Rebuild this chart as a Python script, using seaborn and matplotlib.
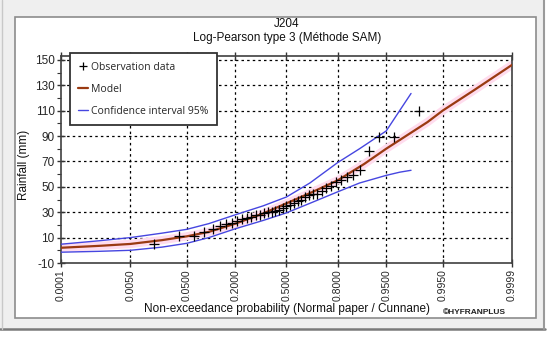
import numpy as np
import pandas as pd
import matplotlib
matplotlib.use("Agg")
import matplotlib.pyplot as plt
import seaborn as sns
from matplotlib.patches import Rectangle
from matplotlib.lines import Line2D
from statistics import NormalDist

# ---------------- data ----------------
tick_probs = [0.0001, 0.005, 0.05, 0.2, 0.5, 0.8, 0.95, 0.995, 0.9999]
tick_labels = ["0.0001", "0.0050", "0.0500", "0.2000", "0.5000",
               "0.8000", "0.9500", "0.9950", "0.9999"]

# observations: non-exceedance probability (Cunnane) and rainfall (mm)
obs_prob = [0.0146, 0.0388, 0.0631, 0.0874, 0.1117, 0.1359, 0.1602, 0.1845,
            0.2087, 0.2330, 0.2573, 0.2816, 0.3058, 0.3301, 0.3544, 0.3786,
            0.4029, 0.4272, 0.4515, 0.4757, 0.5000, 0.5243, 0.5485, 0.5728,
            0.5971, 0.6214, 0.6456, 0.6699, 0.6942, 0.7184, 0.7427, 0.7670,
            0.7913, 0.8155, 0.8398, 0.8641, 0.8883, 0.9126, 0.9369, 0.9612,
            0.9854]
obs_rain = [5.0, 11.5, 11.3, 14.5, 16.5, 19.0, 20.5, 21.7,
            23.0, 25.0, 25.5, 26.5, 27.5, 28.0, 29.0, 30.0,
            30.5, 31.0, 32.0, 33.0, 34.5, 36.0, 37.5, 39.0,
            40.0, 42.0, 43.5, 44.0, 44.5, 47.0, 49.0, 51.0,
            54.0, 55.5, 57.5, 59.0, 63.0, 78.0, 89.0, 89.0,
            110.0]

model_prob = [0.0001, 0.001, 0.005, 0.02, 0.05, 0.1, 0.2, 0.35, 0.5,
              0.65, 0.8, 0.9, 0.95, 0.99, 0.995, 0.999, 0.9999]
model_rain = [2.0, 3.5, 5.0, 8.0, 11.0, 14.5, 21.0, 29.0, 37.0,
              45.0, 55.0, 68.0, 80.0, 101.0, 110.0, 126.0, 146.0]

ci_prob = [0.0001, 0.001, 0.005, 0.02, 0.05, 0.1, 0.2, 0.35, 0.5,
           0.65, 0.8, 0.886, 0.95, 0.969, 0.98]
ci_upper = [4.8, 7.5, 10.0, 13.5, 16.5, 21.0, 28.0, 35.0, 42.0,
            53.0, 69.0, 80.0, 94.0, 110.0, 123.5]
ci_lower = [-1.5, -0.8, 0.0, 2.5, 5.5, 10.0, 17.0, 23.5, 29.5,
            37.0, 46.0, 53.0, 59.0, 61.5, 63.0]

# ---------------- helpers ----------------
nd = NormalDist()
def z(p):
    return [nd.inv_cdf(v) for v in p]

df_obs = pd.DataFrame({"z": z(obs_prob), "rain": obs_rain})
df_model = pd.DataFrame({"z": z(model_prob), "rain": model_rain})
df_ci = pd.DataFrame({"z": z(ci_prob), "up": ci_upper, "lo": ci_lower})

sns.set_theme(style="white")
plt.rcParams["font.family"] = ["Liberation Sans", "DejaVu Sans"]

W, H = 550, 337
fig = plt.figure(figsize=(W / 100, H / 100), dpi=100, facecolor="white")

def fx(px):
    return px / W
def fy(py):
    return 1 - py / H

# background frame like the screenshot
fig.patches.append(Rectangle((0, fy(329)), fx(544), 1 - fy(329), transform=fig.transFigure,
                             facecolor="#efefef", edgecolor="none", zorder=-3))
fig.patches.append(Rectangle((fx(15), fy(318)), fx(536) - fx(15), fy(17) - fy(318),
                             transform=fig.transFigure, facecolor="white",
                             edgecolor="#8c8c8c", lw=1.2, zorder=-2))
fig.lines.append(Line2D([0, fx(545)], [fy(329), fy(329)], transform=fig.transFigure,
                        color="#7a7a7a", lw=1.8))
fig.lines.append(Line2D([fx(544), fx(544)], [fy(329), 1], transform=fig.transFigure,
                        color="#9a9a9a", lw=1.5))
fig.lines.append(Line2D([fx(2), fx(2)], [fy(329), fy(0)], transform=fig.transFigure,
                        color="#c8c8c8", lw=1.0))

ax = fig.add_axes([fx(61), fy(263), fx(512) - fx(61), fy(56) - fy(263)])
ax.set_facecolor("white")

zl = nd.inv_cdf(0.0001)
ax.set_xlim(zl, -zl)
ax.set_ylim(-10, 153)

# grid
ax.set_xticks(z(tick_probs))
ax.set_xticklabels(tick_labels, rotation=90, fontsize=7.5)
yt = list(range(-10, 151, 20))
ax.set_yticks(yt)
ax.set_yticklabels([str(v) for v in yt], fontsize=8.5)
ax.set_yticks(list(range(0, 151, 20)), minor=True)
for v in yt[1:]:
    ax.axhline(v, color="black", lw=0.9, ls=(0, (2, 2.5)), zorder=0)
for v in z(tick_probs)[1:-1]:
    ax.axvline(v, color="black", lw=0.9, ls=(0, (2, 2.5)), zorder=0)

ax.tick_params(axis="both", which="major", direction="inout", length=6, width=1,
               color="#333333", top=True, bottom=True, left=True, right=False, labeltop=False,
               pad=1.5)
ax.tick_params(axis="y", which="minor", direction="out", length=3, width=0.8,
               color="#333333", left=True)
for s in ax.spines.values():
    s.set_color("#404040")
    s.set_linewidth(1.2)

# data
sns.lineplot(data=df_model, x="z", y="rain", ax=ax, color="#ffdcee", lw=6,
             sort=False, zorder=2, legend=False)
sns.lineplot(data=df_ci, x="z", y="up", ax=ax, color="#4646e0", lw=1.0,
             sort=False, zorder=3, legend=False)
sns.lineplot(data=df_ci, x="z", y="lo", ax=ax, color="#4646e0", lw=1.0,
             sort=False, zorder=3, legend=False)
sns.lineplot(data=df_model, x="z", y="rain", ax=ax, color="#9a3a12", lw=1.6,
             sort=False, zorder=4, legend=False)
sns.scatterplot(data=df_obs, x="z", y="rain", ax=ax, marker="+", color="black",
                s=45, linewidth=0.9, zorder=5, legend=False)

ax.set_xlabel("")
ax.set_ylabel("")

# titles and labels
fig.text(fx(287), fy(24), "J204", ha="center", va="center", fontsize=8.5, color="#111111")
fig.text(fx(287), fy(38), "Log-Pearson type 3 (Méthode SAM)", ha="center", va="center",
         fontsize=8.5, color="#111111")
fig.text(fx(24), fy(165), "Rainfall (mm)", ha="center", va="center", rotation=90,
         fontsize=8.5, color="#111111")
fig.text(fx(287), fy(309), "Non-exceedance probability (Normal paper / Cunnane)",
         ha="center", va="center", fontsize=8.5, color="#111111")
fig.text(fx(474), fy(312), "©HYFRANPLUS", ha="center", va="center", fontsize=6,
         fontweight="bold", color="#222222")

# legend
handles = [
    Line2D([], [], marker="+", ls="none", color="black", markersize=6, mew=0.9),
    Line2D([], [], color="#9a3a12", lw=1.6),
    Line2D([], [], color="#4646e0", lw=1.0),
]
labels = ["Observation data", "Model", "Confidence interval 95%"]
leg = ax.legend(handles, labels, loc="upper left", bbox_to_anchor=(fx(72) - fx(61), 1.013),
                bbox_transform=ax.transAxes, frameon=True, fancybox=False,
                prop={"family": ["Open Sans", "DejaVu Sans"], "size": 7.5},
                handlelength=0.9, handletextpad=0.3, labelspacing=1.05,
                borderpad=0.8, borderaxespad=0)
leg.get_frame().set_edgecolor("#333333")
leg.get_frame().set_linewidth(1.3)
leg.get_frame().set_facecolor("white")
leg.get_frame().set_alpha(1)

fig.savefig("out.png", dpi=100, facecolor=fig.get_facecolor())
